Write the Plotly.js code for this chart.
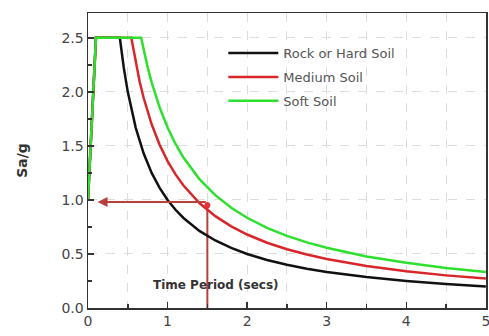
<!DOCTYPE html>
<html>
<head>
<meta charset="utf-8">
<script src="https://cdn.plot.ly/plotly-3.0.1.min.js"></script>
<style>html,body{margin:0;padding:0;background:#fff;}#chart{width:489px;height:336px;}</style>
</head>
<body>
<div id="chart"></div>
<script>
// Period T (s) and spectral acceleration Sa/g
const rockT   = [0, 0.1, 0.4, 0.45, 0.5, 0.55, 0.6, 0.7, 0.8, 0.9, 1.0, 1.1, 1.2, 1.4, 1.6, 1.8, 2.0, 2.25, 2.5, 2.75, 3.0, 3.5, 4.0, 4.5, 5.0];
const rockSa  = [1.0, 2.5, 2.5, 2.222, 2.0, 1.818, 1.667, 1.429, 1.25, 1.111, 1.0, 0.909, 0.833, 0.714, 0.625, 0.556, 0.5, 0.444, 0.4, 0.364, 0.333, 0.286, 0.25, 0.222, 0.2];
const medT    = [0, 0.1, 0.544, 0.6, 0.65, 0.7, 0.8, 0.9, 1.0, 1.1, 1.2, 1.4, 1.6, 1.8, 2.0, 2.25, 2.5, 2.75, 3.0, 3.5, 4.0, 4.5, 5.0];
const medSa   = [1.0, 2.5, 2.5, 2.267, 2.092, 1.943, 1.7, 1.511, 1.36, 1.236, 1.133, 0.971, 0.85, 0.756, 0.68, 0.604, 0.544, 0.495, 0.453, 0.389, 0.34, 0.302, 0.272];
const softT   = [0, 0.1, 0.668, 0.7, 0.75, 0.8, 0.9, 1.0, 1.1, 1.2, 1.4, 1.6, 1.8, 2.0, 2.25, 2.5, 2.75, 3.0, 3.5, 4.0, 4.5, 5.0];
const softSa  = [1.0, 2.5, 2.5, 2.386, 2.227, 2.088, 1.856, 1.67, 1.518, 1.392, 1.193, 1.044, 0.928, 0.835, 0.742, 0.668, 0.607, 0.557, 0.477, 0.418, 0.371, 0.334];
const seriesNames = ["Rock or Hard Soil", "Medium Soil", "Soft Soil"];
// example read-off: T = 1.5 s -> Sa/g on medium soil curve
const exampleT = [1.5];
const exampleSa = [0.95];
const readLevel = 0.98;
const arrowHeadT = 0.12;

const colBlack = "#111111", colRed = "#d8262b", colGreen = "#2ee02e", colArrow = "#b8403c";

const traces = [
  {x: [exampleT[0], exampleT[0]], y: [0, readLevel], mode: "lines", line: {color: colArrow, width: 2}, showlegend: false, hoverinfo: "skip"},
  {x: rockT, y: rockSa, mode: "lines", name: seriesNames[0], legendgroup: "a", line: {color: colBlack, width: 2.5}},
  {x: medT, y: medSa, mode: "lines", name: seriesNames[1], legendgroup: "b", line: {color: colRed, width: 2.5}},
  {x: softT, y: softSa, mode: "lines", name: seriesNames[2], legendgroup: "c", line: {color: colGreen, width: 2.5}},
  {x: exampleT, y: exampleSa, mode: "markers", marker: {color: "#e0303a", size: 6}, showlegend: false, hoverinfo: "skip"}
];

const tickFont = {family: "DejaVu Sans", size: 14, color: "#444"};
const layout = {
  width: 489, height: 336,
  margin: {l: 88, r: 3, t: 13, b: 28},
  paper_bgcolor: "#fff", plot_bgcolor: "#fff",
  showlegend: true,
  legend: {x: 0.34, y: 0.915, xanchor: "left", yanchor: "top", bgcolor: "rgba(0,0,0,0)", itemwidth: 50,
           font: {family: "DejaVu Sans", size: 13, color: "#555"}, tracegroupgap: 4},
  xaxis: {range: [0, 5.002], dtick: 1, tick0: 0, ticks: "inside", ticklen: 6, tickwidth: 1.5, tickcolor: "#333",
          showline: true, linecolor: "#333", linewidth: 1.5, mirror: true, zeroline: false,
          showgrid: true, gridcolor: "#dcdcdc", griddash: "dash", gridwidth: 1, ticklabeloverflow: "allow",
          minor: {dtick: 0.5, ticks: "inside", ticklen: 4, tickcolor: "#333", showgrid: true, gridcolor: "#dcdcdc", griddash: "dash"},
          tickfont: tickFont},
  yaxis: {range: [0, 2.73], dtick: 0.5, tick0: 0, tickformat: ".1f", ticks: "inside", ticklen: 6, tickwidth: 1.5, tickcolor: "#333",
          showline: true, linecolor: "#333", linewidth: 1.5, mirror: true, zeroline: false,
          showgrid: true, gridcolor: "#dcdcdc", griddash: "dash", gridwidth: 1,
          minor: {dtick: 0.25, ticks: "inside", ticklen: 4, tickcolor: "#333", showgrid: false},
          tickfont: tickFont,
          title: {text: "Sa/g", font: {family: "DejaVu Sans", size: 14, color: "#333", weight: "bold"}, standoff: 30}},
  annotations: [
    {x: arrowHeadT, y: readLevel, xref: "x", yref: "y", ax: exampleT[0], ay: readLevel, axref: "x", ayref: "y",
     showarrow: true, arrowhead: 2, arrowsize: 1, arrowwidth: 2, arrowcolor: colArrow, text: ""},
    {x: 1.61, y: 0.21, xref: "x", yref: "y", showarrow: false, text: "Time Period (secs)",
     font: {family: "DejaVu Sans", size: 12, color: "#333", weight: "bold"}}
  ]
};

Plotly.newPlot("chart", traces, layout, {staticPlot: true, displayModeBar: false});
</script>
</body>
</html>
